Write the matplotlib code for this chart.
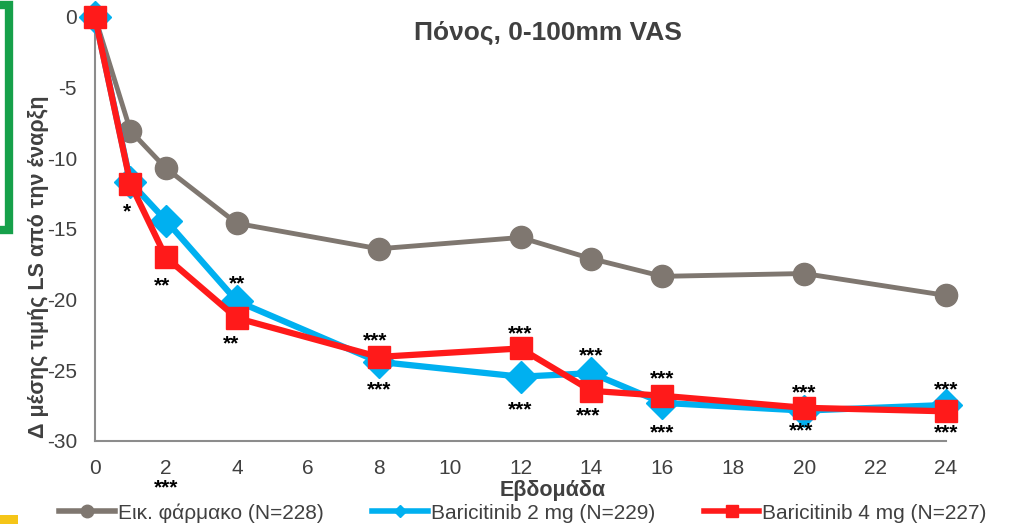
import matplotlib.pyplot as plt
from matplotlib.patches import Rectangle
from matplotlib.lines import Line2D

plt.rcParams['font.family'] = ['Liberation Sans', 'DejaVu Sans']
plt.rcParams['axes.unicode_minus'] = False

weeks = [0, 1, 2, 4, 8, 12, 14, 16, 20, 24]
placebo = [0, -8.05, -10.7, -14.6, -16.4, -15.6, -17.1, -18.35, -18.15, -19.7]
bari2 = [0, -11.7, -14.4, -20.1, -24.4, -25.45, -25.2, -27.3, -27.85, -27.45]
bari4 = [0, -11.8, -17.0, -21.3, -24.05, -23.45, -26.45, -26.8, -27.65, -27.9]

labels = ["Εικ. φάρμακο (N=228)", "Baricitinib 2 mg (N=229)", "Baricitinib 4 mg (N=227)"]

# asterisks (x, y, text)
star_x = [0.9, 1.9, 2.0, 4.0, 3.85, 7.9, 8.0, 12.0, 12.0, 14.0, 13.9, 16.0, 16.0, 20.0, 19.9, 24.0, 24.0]
star_y = [-13.5, -18.75, -33.0, -18.6, -22.8, -22.6, -26.1, -22.15, -27.5, -23.7, -27.9, -25.3, -29.1, -26.3, -29.0, -26.1, -29.15]
star_t = ["*", "**", "***", "**", "**", "***", "***", "***", "***", "***", "***", "***", "***", "***", "***", "***", "***"]

c_pl = '#7f7770'
c_b2 = '#00b0f0'
c_b4 = '#ff1a1a'
axc = '#8c8c8c'
txt = '#404040'

fig = plt.figure(figsize=(10.13, 5.24), dpi=100)
ax = fig.add_axes([95/1013, 1-441/524, (946-95)/1013, (441-17)/524])

ax.plot(weeks, placebo, color=c_pl, lw=3.5, marker='o', ms=16, clip_on=False, zorder=3)
ax.plot(weeks, bari2, color=c_b2, lw=4.5, marker='D', ms=16, clip_on=False, zorder=4)
ax.plot(weeks, bari4, color=c_b4, lw=4.5, marker='s', ms=16, clip_on=False, zorder=5)

for x, y, t in zip(star_x, star_y, star_t):
    ax.text(x, y - 0.3, t, ha='center', va='center', fontsize=15, fontweight='bold',
            color='black', clip_on=False, zorder=6)

ax.set_xlim(0, 24)
ax.set_ylim(-30, 0)
ax.set_xticks(range(0, 25, 2))
ax.set_yticks(range(-30, 1, 5))
for s in ['top', 'right']:
    ax.spines[s].set_visible(False)
for s in ['left', 'bottom']:
    ax.spines[s].set_color(axc)
    ax.spines[s].set_linewidth(1.5)
ax.tick_params(length=0, labelsize=15, labelcolor=txt)
ax.tick_params(axis='x', pad=13)
ax.tick_params(axis='y', pad=13)

ax.set_xlabel("Εβδομάδα", fontsize=15.5, fontweight='bold', color=txt)
ax.xaxis.set_label_coords(458/851, -39/424)
ax.set_ylabel("Δ μέσης τιμής LS από την έναρξη", fontsize=15.5, fontweight='bold', color=txt)
ax.yaxis.set_label_coords(-46/851, 0.41)

fig.text(548/1013, 1-33/524, "Πόνος, 0-100mm VAS", ha='center', va='center',
         fontsize=19, fontweight='bold', color=txt)

handles = [
    Line2D([], [], color=c_pl, lw=4, marker='o', ms=9),
    Line2D([], [], color=c_b2, lw=4, marker='D', ms=6),
    Line2D([], [], color=c_b4, lw=4, marker='s', ms=9),
]
fig.legend(handles, labels, loc='center', bbox_to_anchor=(523/1013, 1-513/524), ncol=3,
           frameon=False, fontsize=15, handlelength=2.65, handletextpad=0.15,
           columnspacing=2.35, labelcolor=txt)

# slide decoration remnants
fig.add_artist(Rectangle((-20/1013, 1-230/524), 29/1013, 225/524, transform=fig.transFigure,
                         fill=False, edgecolor='#16a04a', lw=6))
fig.add_artist(Rectangle((0, 0), 18/1013, 9/524, transform=fig.transFigure,
                         facecolor='#f5c518', edgecolor='none'))

fig.savefig('out.png', dpi=100)
